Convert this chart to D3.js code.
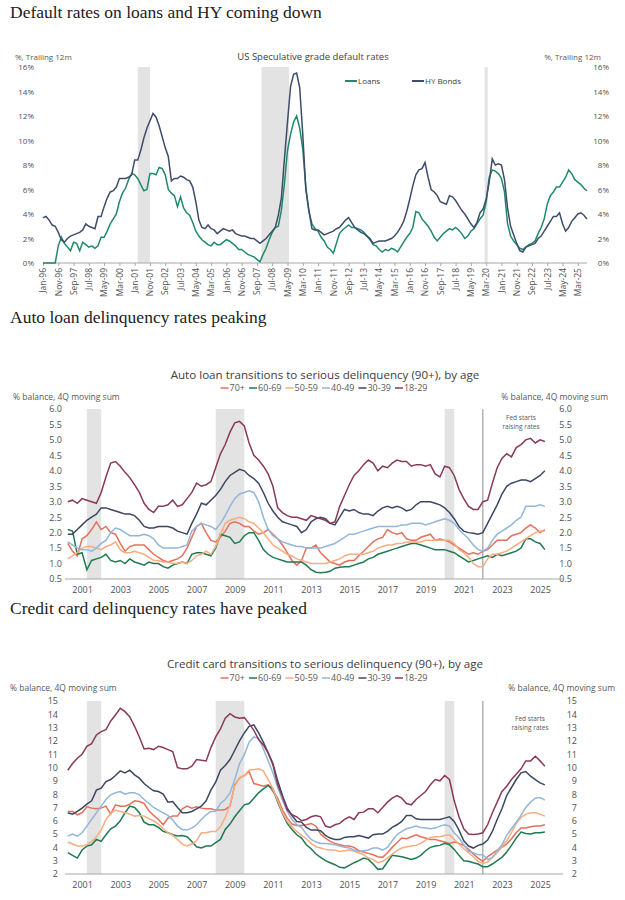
<!DOCTYPE html>
<html>
<head>
<meta charset="utf-8">
<script src="https://cdn.jsdelivr.net/npm/d3@7"></script>
<style>
    body { margin: 0; background: #fff; }
    svg text { font-family: "Open Sans", "Noto Sans", sans-serif; fill: #404040; }
    .panel-title { font-family: "Liberation Serif", "DejaVu Serif", serif; font-size: 17.5px; fill: #222; }
    .axis text { fill: #505050; }
    .axis path, .axis line { stroke: #a6a6a6; }
</style>
</head>
<body>
<svg id="chart" width="625" height="900"></svg>
<script>
// ---------- panel 1: default rates (one point every 2 months from Jan-96) ----------
var topTickLabels = ["Jan-96", "Nov-96", "Sep-97", "Jul-98", "May-99", "Mar-00", "Jan-01", "Nov-01", "Sep-02",
    "Jul-03", "May-04", "Mar-05", "Jan-06", "Nov-06", "Sep-07", "Jul-08", "May-09", "Mar-10", "Jan-11", "Nov-11",
    "Sep-12", "Jul-13", "May-14", "Mar-15", "Jan-16", "Nov-16", "Sep-17", "Jul-18", "May-19", "Mar-20", "Jan-21",
    "Nov-21", "Sep-22", "Jul-23", "May-24", "Mar-25"];

var hyBonds = [
    3.7, 3.8, 3.5, 3.1, 3.0, 2.5, 1.9, 1.7, 2.0, 2.2,
    2.3, 2.4, 2.5, 2.7, 3.2, 3.0, 2.9, 2.8, 3.8, 3.8,
    4.6, 5.3, 5.8, 5.9, 6.2, 6.9, 6.9, 6.9, 7.0, 7.2,
    8.4, 8.4, 9.2, 10.2, 11.0, 11.6, 12.2, 11.9, 11.2, 10.3,
    9.4, 8.7, 6.7, 6.9, 6.9, 7.1, 7.0, 6.8, 6.7, 6.2,
    5.0, 3.5, 2.9, 2.8, 3.1, 2.8, 2.7, 2.4, 2.6, 2.8,
    2.7, 2.6, 2.7, 2.4, 2.3, 2.2, 2.2, 2.1, 2.0, 2.0,
    1.8, 1.6, 1.8, 2.0, 2.3, 2.6, 2.9, 3.9, 5.3, 8.5,
    11.5, 14.4, 15.4, 15.5, 14.3, 10.5, 6.0, 4.3, 2.8, 2.7,
    2.7, 2.5, 2.3, 2.4, 2.5, 2.6, 2.8, 2.9, 3.2, 3.5,
    3.7, 3.3, 2.9, 2.7, 2.5, 2.4, 2.2, 2.0, 1.6, 1.7,
    1.8, 1.8, 1.8, 1.9, 2.0, 2.2, 2.5, 2.9, 3.4, 4.2,
    5.2, 6.3, 7.2, 7.6, 7.7, 8.2, 7.0, 6.0, 5.8, 5.5,
    5.0, 4.9, 4.8, 5.5, 5.4, 5.1, 4.7, 4.3, 4.0, 3.6,
    3.2, 2.9, 3.3, 4.1, 4.4, 5.2, 6.6, 8.5, 8.0, 8.1,
    8.0, 6.8, 4.5, 3.0, 2.3, 1.6, 1.0, 0.9, 1.3, 1.4,
    1.5, 1.6, 2.0, 2.2, 2.6, 3.0, 3.4, 3.8, 3.8, 4.1,
    3.2, 2.6, 2.9, 3.4, 3.7, 4.0, 4.1, 3.9, 3.6];

var loans = [
    0, 0, 0, 0, 0, 1.4, 2.1, 1.6, 1.3, 1.0,
    1.7, 1.6, 1.0, 1.7, 1.5, 1.3, 1.4, 1.2, 1.4, 2.1,
    2.1, 2.6, 3.2, 3.6, 4.0, 5.0, 5.7, 6.1, 6.8, 7.3,
    7.2, 6.9, 6.4, 5.9, 6.0, 7.3, 7.3, 7.2, 7.8, 7.7,
    7.2, 6.0, 5.7, 5.5, 4.6, 5.4, 4.5, 4.1, 3.9, 3.3,
    2.6, 2.2, 1.9, 1.7, 1.5, 1.4, 1.7, 1.5, 1.5, 1.7,
    1.9, 1.8, 1.6, 1.4, 1.1, 1.1, 0.9, 0.7, 0.6, 0.5,
    0.3, 0.1, 0.7, 1.2, 1.9, 2.5, 2.9, 3.0, 4.3, 6.5,
    9.2, 10.5, 11.5, 12.0, 11.0, 9.3, 6.2, 4.2, 3.2, 2.8,
    2.6, 2.1, 1.8, 1.3, 1.1, 0.8, 1.6, 2.4, 2.7, 2.9,
    3.1, 2.9, 2.9, 2.8, 2.7, 2.5, 2.2, 1.9, 1.5, 1.4,
    1.1, 0.9, 1.1, 1.0, 1.2, 1.1, 0.9, 1.3, 1.7, 2.1,
    2.4, 2.9, 4.2, 4.1, 3.6, 3.3, 3.0, 2.6, 2.1, 1.8,
    2.1, 2.4, 2.6, 2.8, 2.7, 2.9, 2.7, 2.4, 2.0, 2.2,
    2.6, 2.8, 3.2, 3.6, 3.9, 5.0, 7.0, 7.6, 7.5, 7.3,
    6.9, 5.8, 3.2, 2.2, 1.8, 1.5, 1.2, 1.1, 1.3, 1.5,
    1.6, 1.8, 2.4, 2.9, 3.6, 4.8, 5.5, 5.8, 6.2, 6.2,
    6.6, 7.0, 7.6, 7.3, 6.8, 6.6, 6.4, 6.1, 5.9];

// recessions, in months since Jan-96
var topRecessions = [[62, 70], [143, 161], [289, 291]];

// ---------- panels 2 and 3: quarterly, 2000Q1 .. 2025Q1 ----------
var ageGroups = ["70+", "60-69", "50-59", "40-49", "30-39", "18-29"];
var ageColors = ["#e6705a", "#1f7a50", "#f6ad80", "#93b6da", "#3b4762", "#8a3a57"];

var auto70 = [1.65, 1.4, 1.25, 1.8, 1.9, 2.1, 2.35, 2.1, 2.2, 2.0, 1.95, 1.65, 1.4, 1.55, 1.6, 1.6,
    1.6, 1.45, 1.3, 1.2, 1.1, 1.05, 1.1, 1.15, 1.25, 1.5, 1.85, 2.2, 2.3, 2.0, 1.75, 1.7,
    1.85, 2.05, 2.3, 2.35, 2.3, 2.2, 2.2, 2.05, 1.95, 2.0, 2.1, 1.95, 1.8, 1.6, 1.35, 1.1,
    0.95, 1.1, 1.5, 1.5, 1.6, 1.35, 1.2, 1.05, 1.0, 0.95, 1.05, 1.1, 1.1, 1.25, 1.4, 1.55,
    1.7, 1.8, 1.85, 2.1, 2.0, 1.95, 2.0, 1.8, 1.75, 1.75, 1.85, 1.9, 1.95, 1.75, 1.8, 1.75,
    1.7, 1.6, 1.5, 1.4, 1.3, 1.35, 1.3, 1.4, 1.45, 1.6, 1.75, 1.75, 1.75, 1.9, 1.95, 2.0,
    2.15, 2.25, 2.15, 2.0, 2.1];
var auto60 = [2.1, 2.05, 1.3, 1.35, 0.8, 1.1, 1.15, 1.2, 1.3, 1.1, 1.05, 1.1, 1.0, 1.15, 1.05, 1.0,
    0.95, 1.05, 1.0, 1.0, 0.9, 0.85, 0.95, 1.0, 1.05, 1.0, 1.3, 1.35, 1.35, 1.3, 1.25, 1.5,
    1.95, 1.9, 1.85, 1.65, 1.7, 1.9, 2.0, 2.0, 1.75, 1.45, 1.3, 1.2, 1.15, 1.1, 1.05, 1.05,
    1.05, 1.05, 0.95, 0.8, 0.72, 0.7, 0.72, 0.75, 0.85, 0.88, 0.9, 0.9, 0.95, 1.0, 1.05, 1.15,
    1.2, 1.3, 1.35, 1.4, 1.45, 1.5, 1.55, 1.6, 1.65, 1.65, 1.6, 1.55, 1.5, 1.45, 1.45, 1.45,
    1.4, 1.35, 1.25, 1.15, 1.05, 1.1, 1.15, 1.2, 1.25, 1.2, 1.3, 1.25, 1.3, 1.35, 1.4, 1.5,
    1.8, 1.8, 1.7, 1.65, 1.45];
var auto50 = [1.15, 1.25, 1.35, 1.5, 1.55, 1.55, 1.5, 1.45, 1.55, 1.6, 1.7, 1.45, 1.35, 1.35, 1.4, 1.35,
    1.3, 1.2, 1.1, 1.1, 1.05, 1.05, 1.0, 1.0, 1.05, 1.0, 1.1, 1.25, 1.3, 1.4, 1.3, 1.55,
    1.95, 2.3, 2.4, 2.45, 2.5, 2.45, 2.35, 2.3, 2.15, 2.0, 1.8, 1.6, 1.5, 1.4, 1.3, 1.25,
    1.15, 1.1, 1.05, 1.0, 1.0, 1.0, 1.0, 1.05, 1.1, 1.15, 1.25, 1.3, 1.3, 1.3, 1.3, 1.35,
    1.4, 1.5, 1.55, 1.6, 1.6, 1.65, 1.65, 1.7, 1.7, 1.7, 1.7, 1.75, 1.75, 1.75, 1.75, 1.75,
    1.75, 1.65, 1.45, 1.35, 1.2, 1.0, 0.9, 0.9, 1.15, 1.3, 1.3, 1.35, 1.4, 1.5, 1.6, 1.7,
    1.8, 1.9, 2.0, 2.05, 2.05];
var auto40 = [1.7, 1.6, 1.5, 1.45, 1.45, 1.4, 1.5, 1.65, 1.75, 2.0, 2.15, 2.1, 2.0, 1.9, 1.9, 1.9,
    1.95, 1.9, 1.8, 1.6, 1.5, 1.5, 1.5, 1.5, 1.55, 1.6, 2.05, 2.2, 2.3, 2.25, 2.2, 2.1,
    2.3, 2.55, 2.85, 3.1, 3.25, 3.3, 3.35, 3.3, 3.0, 2.5, 2.1, 1.9, 1.8, 1.7, 1.65, 1.6,
    1.55, 1.55, 1.5, 1.5, 1.5, 1.5, 1.55, 1.6, 1.65, 1.75, 1.85, 1.95, 1.95, 2.0, 2.05, 2.1,
    2.15, 2.2, 2.2, 2.2, 2.2, 2.2, 2.25, 2.25, 2.3, 2.3, 2.3, 2.25, 2.3, 2.35, 2.4, 2.45,
    2.4, 2.3, 2.1, 1.95, 1.8, 1.6, 1.45, 1.4, 1.5, 1.75, 1.95, 2.05, 2.15, 2.25, 2.4, 2.5,
    2.85, 2.85, 2.85, 2.9, 2.85];
var auto30 = [1.95, 1.95, 2.1, 2.25, 2.4, 2.5, 2.6, 2.8, 2.8, 2.75, 2.7, 2.65, 2.6, 2.6, 2.55, 2.4,
    2.2, 2.15, 2.15, 2.2, 2.2, 2.2, 2.15, 2.05, 2.0, 1.95, 2.3, 2.6, 2.95, 2.9, 3.05, 3.2,
    3.4, 3.65, 3.85, 3.95, 4.05, 4.0, 3.85, 3.75, 3.6, 3.3, 2.95, 2.7, 2.5, 2.35, 2.3, 2.25,
    2.2, 2.0, 2.1, 2.35, 2.45, 2.5, 2.45, 2.3, 2.25, 2.5, 2.75, 2.7, 2.75, 2.65, 2.6, 2.6,
    2.55, 2.7, 2.8, 2.85, 2.8, 2.85, 2.8, 2.7, 2.75, 2.9, 3.0, 3.0, 3.0, 2.95, 2.9, 2.8,
    2.65, 2.45, 2.2, 2.05, 2.0, 1.98, 1.95, 2.0, 2.3, 2.6, 2.9, 3.25, 3.5, 3.6, 3.65, 3.7,
    3.7, 3.65, 3.75, 3.85, 4.0];
var auto18 = [3.0, 3.05, 2.95, 3.1, 3.05, 3.0, 2.95, 3.3, 3.8, 4.25, 4.3, 4.15, 3.95, 3.78, 3.55, 3.3,
    2.95, 2.75, 2.65, 2.85, 2.85, 2.9, 3.05, 2.85, 2.9, 3.1, 3.3, 3.6, 3.5, 3.55, 3.65, 4.1,
    4.55, 4.85, 5.25, 5.55, 5.6, 5.45, 4.9, 4.5, 4.35, 4.15, 3.9, 3.5, 2.8, 2.65, 2.55, 2.5,
    2.5, 2.45, 2.4, 2.55, 2.5, 2.45, 2.4, 2.3, 2.35, 2.85, 3.2, 3.55, 3.85, 4.0, 4.2, 4.35,
    4.25, 4.0, 4.15, 4.1, 4.25, 4.35, 4.3, 4.3, 4.15, 4.2, 4.2, 4.15, 4.2, 3.9, 3.8, 4.15,
    4.1, 3.85, 3.4, 3.1, 2.85, 2.75, 2.75, 3.0, 3.05, 3.6, 4.1, 4.4, 4.55, 4.45, 4.75, 4.85,
    5.0, 5.05, 4.9, 5.0, 4.95];

var card70 = [6.7, 6.7, 6.45, 6.6, 7.05, 6.95, 6.9, 6.95, 7.1, 6.5, 7.2, 7.1, 7.1, 7.25, 7.5, 7.45,
    7.3, 6.75, 6.4, 6.1, 5.7, 6.2, 6.35, 6.35, 6.9, 7.1, 6.95, 7.05, 6.95, 6.9, 6.9, 6.8,
    6.8, 6.85, 7.1, 8.7, 9.2, 9.4, 9.7, 8.8, 8.7, 8.6, 8.7, 8.2, 7.7, 6.8, 6.2, 5.75,
    5.65, 5.65, 5.7, 5.8, 5.6, 5.0, 4.7, 4.45, 4.3, 4.2, 4.1, 4.1, 4.0, 3.75, 3.65, 3.55,
    3.45, 3.3, 3.25, 3.6, 4.0, 4.35, 4.7, 4.65, 4.8, 4.95, 4.8, 4.7, 4.6, 4.6, 4.5, 4.4,
    4.3, 4.4, 4.3, 4.15, 3.85, 3.5, 3.2, 2.95, 3.3, 3.55, 3.8, 4.0, 4.25, 4.65, 5.1, 5.45,
    5.45, 5.55, 5.6, 5.6, 5.7];
var card60 = [3.6, 3.4, 3.2, 3.8, 4.1, 4.2, 4.6, 4.45, 4.95, 5.4, 5.6, 6.0, 6.6, 7.1, 7.0, 6.6,
    5.9, 5.7, 5.7, 5.5, 5.2, 5.1, 4.95, 4.85, 4.9, 4.8, 4.45, 4.05, 3.95, 4.1, 4.1, 4.35,
    4.6, 5.35, 5.75, 6.3, 6.75, 7.2, 7.3, 7.7, 8.1, 8.4, 8.65, 8.4, 7.4, 6.55, 5.8, 5.35,
    4.95, 4.7, 4.2, 3.9, 3.5, 3.25, 3.0, 2.85, 2.7, 2.5, 2.45, 2.65, 2.85, 3.0, 3.2, 3.1,
    2.75, 2.35, 2.4, 2.9, 3.4, 3.35, 3.3, 3.2, 3.1, 3.2, 3.4, 3.75, 4.0, 4.1, 4.15, 4.3,
    4.2, 3.85, 3.4, 3.0, 2.95, 2.85, 2.75, 2.55, 2.55, 2.75, 3.0, 3.25, 3.65, 4.15, 4.7, 5.15,
    5.05, 5.0, 5.1, 5.1, 5.15];
var card50 = [4.4, 4.25, 4.1, 4.1, 4.2, 4.45, 4.8, 5.3, 6.1, 6.55, 6.8, 6.7, 6.6, 6.5, 6.35, 6.4,
    6.35, 6.15, 6.0, 5.75, 5.4, 5.1, 4.9, 4.6, 4.25, 4.1, 4.25, 4.5, 5.1, 5.1, 5.2, 5.2,
    5.55, 6.25, 7.2, 8.6, 9.25, 9.4, 9.8, 9.85, 9.9, 9.75, 9.1, 8.4, 7.5, 6.6, 5.95, 5.55,
    5.2, 4.9, 4.65, 4.3, 4.05, 3.95, 3.85, 3.8, 3.8, 3.7, 3.75, 3.8, 3.7, 3.6, 3.45, 3.2,
    3.1, 2.85, 2.95, 3.2, 3.5, 3.75, 3.95, 4.05, 4.1, 4.15, 4.3, 4.55, 4.75, 4.8, 4.8, 4.9,
    4.95, 4.6, 4.25, 3.9, 3.6, 3.3, 2.95, 2.8, 2.9, 3.25, 3.6, 4.05, 4.5, 5.1, 5.8, 6.25,
    6.5, 6.6, 6.6, 6.5, 6.35];
var card40 = [4.85, 5.0, 4.85, 5.1, 5.6, 6.1, 6.6, 7.1, 7.6, 7.95, 8.1, 8.2, 8.0, 8.1, 8.1, 7.95,
    7.6, 7.3, 7.0, 6.8, 6.6, 6.4, 6.05, 5.6, 5.35, 5.3, 5.45, 5.7, 6.1, 6.45, 6.7, 6.7,
    7.3, 7.6, 8.1, 9.1, 10.3, 10.95, 11.9, 12.3, 12.2, 11.4, 10.5, 9.6, 8.5, 7.55, 6.7, 6.1,
    5.7, 5.5, 5.0, 4.6, 4.4, 4.3, 4.3, 4.25, 4.2, 4.1, 4.0, 3.95, 3.8, 3.7, 3.75, 3.8,
    3.95, 3.95, 3.8, 4.0, 4.5, 4.95, 5.2, 5.4, 5.5, 5.6, 5.5, 5.45, 5.4, 5.45, 5.6, 5.7,
    5.6, 5.1, 4.7, 4.2, 3.7, 3.6, 3.45, 3.45, 3.1, 3.25, 3.75, 4.2, 4.9, 5.4, 5.9, 6.4,
    7.0, 7.4, 7.7, 7.75, 7.55];
var card30 = [6.6, 6.5, 6.7, 6.95, 7.25, 7.5, 8.3, 8.45, 8.95, 9.1, 9.4, 9.75, 9.6, 9.8, 9.45, 9.2,
    8.8, 8.5, 8.25, 8.2, 8.0, 7.4, 7.45, 7.0, 6.6, 6.6, 6.7, 6.9, 7.1, 7.5, 8.3, 8.9,
    9.8, 10.15, 10.6, 11.3, 12.0, 12.6, 13.1, 13.2, 12.6, 11.9, 11.1, 10.3, 9.0, 7.9, 6.95, 6.4,
    5.95, 5.9, 5.5, 5.3, 5.3, 5.25, 4.9, 4.7, 4.6, 4.6, 4.75, 4.8, 4.8, 4.9, 4.8, 4.7,
    4.95, 5.0, 5.0, 5.2, 5.5, 5.7, 5.95, 6.4, 6.4, 6.15, 6.1, 6.1, 6.1, 6.1, 6.1, 6.2,
    6.3, 5.95, 5.3, 4.5, 4.1, 3.95, 4.15, 4.25, 4.55, 5.2, 6.1, 6.9, 7.9, 8.5, 9.1, 9.6,
    9.7, 9.35, 9.1, 8.85, 8.7];
var card18 = [9.8, 10.3, 10.7, 11.0, 11.6, 11.8, 12.45, 12.7, 12.85, 13.5, 13.95, 14.45, 14.2, 13.8, 13.1, 12.3,
    11.4, 11.45, 11.35, 11.6, 11.5, 11.35, 11.2, 10.0, 9.9, 9.9, 10.1, 10.6, 10.55, 10.5, 11.5, 12.3,
    12.9, 13.7, 14.05, 13.8, 13.7, 13.75, 13.3, 12.8, 12.1, 11.7, 11.1, 10.2, 8.7, 7.8, 6.8, 6.45,
    6.3, 6.0, 6.1, 6.3, 6.4, 6.3, 5.6, 5.5, 5.7, 5.8, 6.1, 6.3, 6.1, 6.6, 6.65, 6.9,
    6.9, 6.6, 7.0, 7.4, 7.7, 7.9, 7.7, 7.3, 7.2, 7.6, 7.9, 8.2, 8.7, 9.1, 9.0, 9.4,
    9.1, 7.5, 6.3, 5.4, 5.0, 4.97, 5.0, 5.1, 5.7, 6.6, 7.4, 8.2, 8.6, 9.1, 9.5, 9.9,
    10.5, 10.5, 10.85, 10.5, 10.1];

// recessions shown on the quarterly charts, in years
var qRecessions = [[2001.25, 2002.0], [2008.0, 2009.5], [2020.0, 2020.5]];
var fedHike = 2022.0;
var yearTicks = [2001, 2003, 2005, 2007, 2009, 2011, 2013, 2015, 2017, 2019, 2021, 2023, 2025];

var svg = d3.select("#chart");

// panel titles
var panelTitles = ["Default rates on loans and HY coming down", "Auto loan delinquency rates peaking",
    "Credit card delinquency rates have peaked"];
var panelTitleY = [18, 323, 614];
svg.selectAll(".panel-title")
    .data(panelTitles)
    .enter().append("text")
    .attr("class", "panel-title")
    .attr("x", 10)
    .attr("y", function (d, i) { return panelTitleY[i]; })
    .text(function (d) { return d; });

/////////////// PANEL 1 ///////////////
function drawDefaults() {
    var months = d3.range(0, 2 * hyBonds.length, 2);
    var x = d3.scaleLinear().domain([0, 356]).range([43, 587]);
    var y = d3.scaleLinear().domain([0, 16]).range([263, 67]);
    var g = svg.append("g");

    g.selectAll(".rec")
        .data(topRecessions)
        .enter().append("rect")
        .attr("x", function (d) { return x(d[0]); })
        .attr("width", function (d) { return x(d[1]) - x(d[0]); })
        .attr("y", y(16))
        .attr("height", y(0) - y(16))
        .attr("fill", "#e3e3e3");

    var yTicks = d3.range(0, 17, 2);
    var fmt = function (d) { return d + "%"; };
    g.append("g").attr("class", "axis").attr("transform", "translate(37,0)")
        .call(d3.axisLeft(y).tickValues(yTicks).tickFormat(fmt).tickSize(0).tickPadding(3))
        .call(function (a) { a.select(".domain").remove(); })
        .selectAll("text").style("font-size", "8px");
    g.append("g").attr("class", "axis").attr("transform", "translate(612,0)")
        .call(d3.axisLeft(y).tickValues(yTicks).tickFormat(fmt).tickSize(0).tickPadding(3))
        .call(function (a) { a.select(".domain").remove(); })
        .selectAll("text").style("font-size", "8px");

    var xAxis = d3.axisBottom(x)
        .tickValues(d3.range(0, 351, 10))
        .tickFormat(function (d, i) { return topTickLabels[i]; })
        .tickSize(3)
        .tickSizeOuter(0);
    var xg = g.append("g").attr("class", "axis").attr("transform", "translate(0," + y(0) + ")").call(xAxis);
    xg.select(".domain").attr("d", "M" + x(0) + ",0H" + x(356));
    xg.selectAll("text")
        .attr("y", 0).attr("x", -5).attr("dy", "0.32em")
        .attr("transform", "rotate(-90)")
        .style("text-anchor", "end")
        .style("font-size", "8.5px");

    var line = d3.line()
        .x(function (d, i) { return x(months[i]); })
        .y(function (d) { return y(d); });
    g.append("path").datum(loans).attr("d", line)
        .attr("fill", "none").attr("stroke", "#1f8a6b").attr("stroke-width", 1.5);
    g.append("path").datum(hyBonds).attr("d", line)
        .attr("fill", "none").attr("stroke", "#3d4d6b").attr("stroke-width", 1.5);

    g.append("text").attr("x", 313).attr("y", 60).attr("text-anchor", "middle")
        .style("font-size", "9.5px").text("US Speculative grade default rates");
    g.append("text").attr("x", 15).attr("y", 60).style("font-size", "8px").style("fill", "#595959").text("%, Trailing 12m");
    g.append("text").attr("x", 601).attr("y", 60).attr("text-anchor", "end").style("font-size", "8px").style("fill", "#595959").text("%, Trailing 12m");

    var legend = [["Loans", "#1f8a6b", 345], ["HY Bonds", "#3d4d6b", 412]];
    legend.forEach(function (l) {
        g.append("line").attr("x1", l[2]).attr("x2", l[2] + 12).attr("y1", 81).attr("y2", 81)
            .attr("stroke", l[1]).attr("stroke-width", 2);
        g.append("text").attr("x", l[2] + 13).attr("y", 84).style("font-size", "8px").text(l[0]);
    });
}

/////////////// PANELS 2 & 3 ///////////////
function drawDelinquency(opts, seriesList) {
    var qTimes = d3.range(seriesList[0].length).map(function (i) { return 2000.25 + i * 0.25; });
    var x = d3.scaleLinear().domain([2000, 2026.2]).range([63, 563]);
    var y = d3.scaleLinear().domain(opts.yDomain).range([opts.bottom, opts.top]);
    var g = svg.append("g");

    g.selectAll(".rec")
        .data(qRecessions)
        .enter().append("rect")
        .attr("x", function (d) { return x(d[0]); })
        .attr("width", function (d) { return x(d[1]) - x(d[0]); })
        .attr("y", opts.top)
        .attr("height", opts.bottom - opts.top)
        .attr("fill", "#e3e3e3");

    g.append("line")
        .attr("x1", x(fedHike)).attr("x2", x(fedHike))
        .attr("y1", opts.top).attr("y2", opts.bottom)
        .attr("stroke", "#8c8c8c").attr("stroke-width", 1);

    var yTicks = opts.yTicks;
    g.append("g").attr("class", "axis").attr("transform", "translate(" + (opts.leftLabelX + 3) + ",0)")
        .call(d3.axisLeft(y).tickValues(yTicks).tickFormat(opts.fmt).tickSize(0).tickPadding(3))
        .call(function (a) { a.select(".domain").remove(); })
        .selectAll("text").style("font-size", "9px");
    g.append("g").attr("class", "axis").attr("transform", "translate(" + (opts.rightLabelX + 3) + ",0)")
        .call(d3.axisLeft(y).tickValues(yTicks).tickFormat(opts.fmt).tickSize(0).tickPadding(3))
        .call(function (a) { a.select(".domain").remove(); })
        .selectAll("text").style("font-size", "9px");

    var xg = g.append("g").attr("class", "axis").attr("transform", "translate(0," + opts.bottom + ")")
        .call(d3.axisBottom(x).tickValues(yearTicks).tickFormat(d3.format("d")).tickSize(0).tickPadding(8));
    xg.select(".domain").attr("d", "M" + x(2000.1) + ",0H" + x(2026.2));
    xg.selectAll("text").style("font-size", "9px");

    var line = d3.line()
        .x(function (d, i) { return x(qTimes[i]); })
        .y(function (d) { return y(d); });
    seriesList.forEach(function (s, k) {
        g.append("path").datum(s).attr("d", line)
            .attr("fill", "none").attr("stroke", ageColors[k]).attr("stroke-width", 1.5);
    });

    g.append("text").attr("x", 325).attr("y", opts.titleY).attr("text-anchor", "middle")
        .style("font-size", "11.6px").text(opts.title);

    // legend, centred under the title
    var lg = g.append("g");
    var cursor = 0;
    ageGroups.forEach(function (a, k) {
        lg.append("line").attr("x1", cursor).attr("x2", cursor + 8).attr("y1", -3).attr("y2", -3)
            .attr("stroke", ageColors[k]).attr("stroke-width", 1.5);
        var t = lg.append("text").attr("x", cursor + 9).attr("y", 0).style("font-size", "9px").style("fill", "#595959").text(a);
        cursor += 9 + t.node().getComputedTextLength() + 4;
    });
    lg.attr("transform", "translate(" + (326 - cursor / 2) + "," + opts.legendY + ")");

    g.append("text").attr("x", opts.unitLeftX).attr("y", opts.unitY).style("font-size", "8.5px").style("fill", "#595959").text("% balance, 4Q moving sum");
    g.append("text").attr("x", opts.unitRightX).attr("y", opts.unitY).attr("text-anchor", "end").style("font-size", "8.5px").style("fill", "#595959").text("% balance, 4Q moving sum");

    var fed = g.append("text").attr("text-anchor", "middle").style("font-size", "6.5px").style("fill", "#595959");
    fed.append("tspan").attr("x", opts.fedX).attr("y", opts.fedY).text("Fed starts");
    fed.append("tspan").attr("x", opts.fedX).attr("y", opts.fedY + 9).text("raising rates");
}

drawDefaults();

drawDelinquency({
    title: "Auto loan transitions to serious delinquency (90+), by age",
    titleY: 379, legendY: 391, unitY: 400, unitLeftX: 13, unitRightX: 608,
    yDomain: [0.5, 6], yTicks: d3.range(0.5, 6.01, 0.5), fmt: d3.format(".1f"),
    top: 409, bottom: 579, leftLabelX: 62, rightLabelX: 572, fedX: 521, fedY: 420
}, [auto70, auto60, auto50, auto40, auto30, auto18]);

drawDelinquency({
    title: "Credit card transitions to serious delinquency (90+), by age",
    titleY: 668, legendY: 681, unitY: 691, unitLeftX: 10, unitRightX: 615,
    yDomain: [2, 15], yTicks: d3.range(2, 16, 1), fmt: d3.format("d"),
    top: 701, bottom: 874, leftLabelX: 58, rightLabelX: 577, fedX: 530, fedY: 721
}, [card70, card60, card50, card40, card30, card18]);
</script>
</body>
</html>
